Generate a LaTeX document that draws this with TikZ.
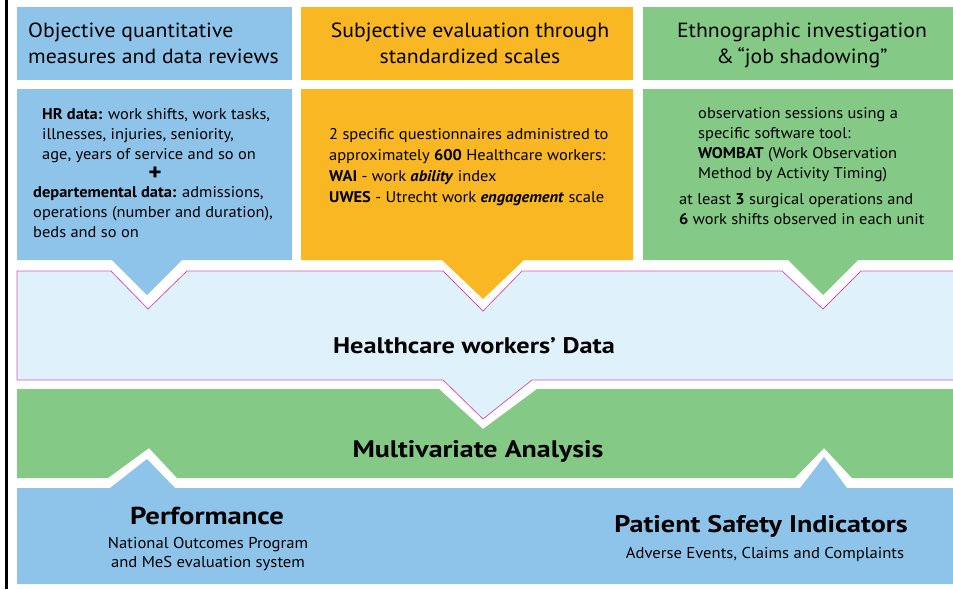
\documentclass[tikz,border=0pt]{standalone}
\usepackage{fontspec}
\setmainfont{PT Sans}[FakeStretch=1.06]
\newfontfamily\titlefont{PT Sans}[FakeStretch=1.17]
\usetikzlibrary{positioning}
\definecolor{skyblue}{HTML}{8FC4EA}
\definecolor{amber}{HTML}{F8B723}
\definecolor{leafgreen}{HTML}{85C987}
\definecolor{paleblue}{HTML}{DFF1FB}
\definecolor{pinkline}{HTML}{D65AB4}
\tikzset{head/.style = {font=\fontsize{20.5}{26}\selectfont, inner sep=0, align=center}}
\tikzset{info/.style = {font=\fontsize{15.5}{20}\selectfont, inner sep=0, align=left}}
\tikzset{title/.style = {font=\titlefont\bfseries\fontsize{23.5}{28}\selectfont, inner sep=0}}
\tikzset{sub/.style = {font=\fontsize{15.7}{19}\selectfont, inner sep=0, align=center}}

\begin{document}
\begin{tikzpicture}[x=1pt, y=-1pt]
    \useasboundingbox (0,0) rectangle (953,589);
    \clip (0,0) rectangle (953,589);

    \fill[skyblue] (17,7) rectangle (292,80);
    \fill[amber] (301,7) rectangle (633,80);
    \fill[leafgreen] (643,7) rectangle (960,80);

    \fill[skyblue] (17,89) -- (292,89) -- (292,260) -- (182,260) -- (147,295) -- (112,260) -- (17,260) -- cycle;
    \fill[amber] (301,89) -- (633,89) -- (633,260) -- (524,260) -- (483,299) -- (442,260) -- (301,260) -- cycle;
    \fill[leafgreen] (643,89) -- (960,89) -- (960,260) -- (858,260) -- (823,295) -- (788,260) -- (643,260) -- cycle;

    \draw[pinkline, fill=paleblue, line width=0.8] (17,271) -- (111,271) -- (148,309) -- (187,271) -- (443,271) -- (483,311) -- (522,271) -- (782,271) -- (823,309) -- (861,271) -- (960,271)
        -- (960,380) -- (532,380) -- (483,419) -- (443,380) -- (17,380) -- cycle;

    \fill[leafgreen] (17,389) -- (439,389) -- (483,429) -- (537,389) -- (960,389) -- (960,478) -- (852,478) -- (824,448) -- (795,478) -- (177,478) -- (149,448) -- (108,478) -- (17,478) -- cycle;

    \fill[skyblue] (17,488) -- (110,488) -- (147,459) -- (175,488) -- (800,488) -- (824,457) -- (847,488) -- (960,488) -- (960,584) -- (17,584) -- cycle;

    \draw[line width=3] (6.5,0) -- (6.5,589);

    \node[head, anchor=base west, align=left] (objhead) at (28,63) {Objective quantitative\\measures and data reviews};
    \node[head, anchor=base] (subhead) at (470,63) {Subjective evaluation through\\standardized scales};
    \node[head, anchor=base] (ethhead) at (802,63) {Ethnographic investigation\\\&\,“job shadowing”};

    \node[info, anchor=base west] (hrdata) at (42,159) {\textbf{HR data:} work shifts, work tasks,\\illnesses, injuries, seniority,\\age, years of service and so on};
    \node[font=\bfseries\fontsize{24}{24}\selectfont, inner sep=0, anchor=base] (plus) at (155,180) {+};
    \node[info, anchor=base west] (depdata) at (33,237) {\textbf{departemental data:} admissions,\\operations (number and duration),\\beds and so on};

    \node[info, font=\fontsize{15.5}{20.7}\selectfont, anchor=base west] (scales) at (329,202) {2 specific questionnaires administred to\\approximately \textbf{600} Healthcare workers:\\\textbf{WAI} - work \textbf{\textit{ability}} index\\\textbf{UWES} - Utrecht work \textbf{\textit{engagement}} scale};

    \node[info, anchor=base west] (wombat) at (698,178) {observation sessions using a\\specific software tool:\\\textbf{WOMBAT} (Work Observation\\Method by Activity Timing)};
    \node[info, anchor=base west] (shifts) at (679,224) {at least \textbf{3} surgical operations and\\\textbf{6} work shifts observed in each unit};

    \node[title, font=\titlefont\bfseries\fontsize{22.5}{28}\selectfont, anchor=base] (hwdata) at (474,353) {Healthcare workers’ Data};
    \node[title, font=\titlefont\bfseries\fontsize{23.9}{28}\selectfont, anchor=base] (multi) at (478,457) {Multivariate Analysis};

    \node[title, font=\titlefont\bfseries\fontsize{24.5}{28}\selectfont, anchor=base] (perf) at (207,524) {Performance};
    \node[sub, anchor=base] (perfsub) at (208,567) {National Outcomes Program\\and MeS evaluation system};
    \node[title, font=\titlefont\bfseries\fontsize{24}{28}\selectfont, anchor=base] (safety) at (761,532) {Patient Safety Indicators};
    \node[sub, anchor=base] (safetysub) at (765,558) {Adverse Events, Claims and Complaints};
\end{tikzpicture}
\end{document}
